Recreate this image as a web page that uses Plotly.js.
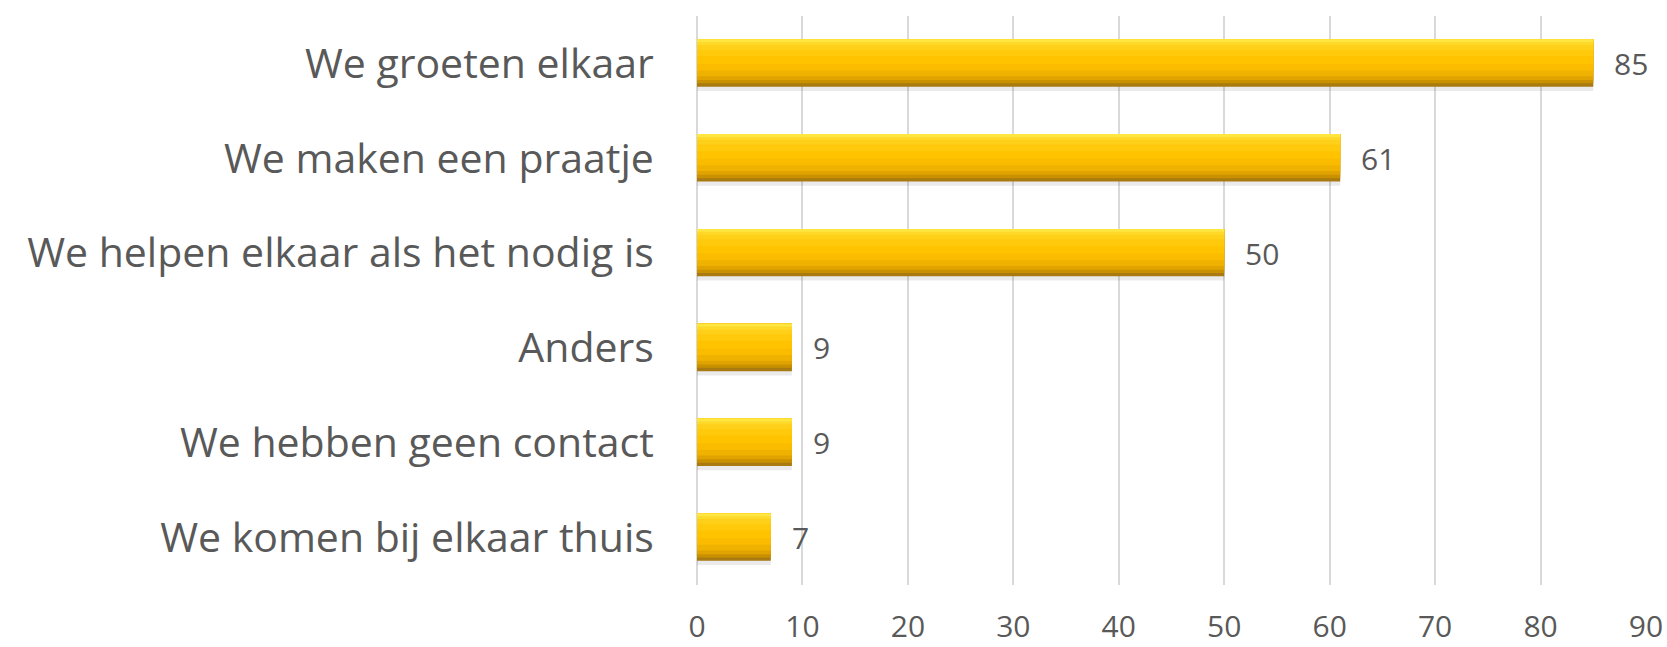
<!DOCTYPE html>
<html>
<head>
<meta charset="utf-8">
<script src="https://cdn.plot.ly/plotly-3.0.1.min.js"></script>
<style>
  html, body { margin: 0; padding: 0; background: #ffffff; }
  #chart { width: 1667px; height: 647px; }
</style>
</head>
<body>
<div id="chart"></div>
<script>
// ---- data ----
const categories = [
  "We groeten elkaar",
  "We maken een praatje",
  "We helpen elkaar als het nodig is",
  "Anders",
  "We hebben geen contact",
  "We komen bij elkaar thuis"
];
const values = [85, 61, 50, 9, 9, 7];
const tickValues = [0, 10, 20, 30, 40, 50, 60, 70, 80, 90];
const tickLabels = ["0", "10", "20", "30", "40", "50", "60", "70", "80", "90"];

// ---- bevel-like layered bar styling ----
const barTop = -0.255;
const layers = [
  // [offset from top, width, color]
  [0.025, 0.52, "rgba(0,0,0,0.08)"],     // soft shadow
  [0.0, 0.50, "#A87A10"],                 // dark bottom edge
  [0.0, 0.465, "#C99000"],
  [0.0, 0.43, "#E0A300"],
  [0.0, 0.39, "#F0B200"],
  [0.0, 0.33, "#FBBC00"],
  [0.0, 0.26, "#FFC300"],
  [0.0, 0.18, "#FFC90C"],
  [0.0, 0.11, "#FFD01A"],
  [0.0, 0.06, "#FFD92A"],
  [0.0, 0.03, "#FFE640"]
];

const traces = layers.map(([dOff, w, col]) => ({
  type: "bar",
  orientation: "h",
  y: categories,
  x: values,
  offset: barTop + dOff,
  width: w,
  marker: { color: col, line: { width: 0 } },
  hoverinfo: "skip",
  showlegend: false
}));

const annotations = categories.map((c, i) => ({
  x: values[i],
  y: c,
  xref: "x",
  yref: "y",
  text: String(values[i]),
  showarrow: false,
  xanchor: "left",
  yanchor: "middle",
  xshift: 19,
  font: { family: "Open Sans, sans-serif", size: 30, color: "#595959" }
}));

const layout = {
  width: 1667,
  height: 647,
  margin: { l: 697, r: 21, t: 16, b: 62 },
  paper_bgcolor: "#ffffff",
  plot_bgcolor: "#ffffff",
  barmode: "overlay",
  showlegend: false,
  font: { family: "Open Sans, sans-serif", color: "#595959" },
  xaxis: {
    range: [0, 90],
    tickvals: tickValues,
    ticktext: tickLabels,
    showgrid: true,
    gridcolor: "#D9D9D9",
    gridwidth: 2,
    zeroline: true,
    zerolinecolor: "#D9D9D9",
    zerolinewidth: 2,
    showline: false,
    ticks: "outside",
    ticklen: 15,
    tickcolor: "rgba(0,0,0,0)",
    tickfont: { family: "Open Sans, sans-serif", size: 30, color: "#595959" },
    fixedrange: true
  },
  yaxis: {
    type: "category",
    categoryorder: "array",
    categoryarray: categories,
    autorange: "reversed",
    showgrid: false,
    zeroline: false,
    showline: false,
    ticks: "outside",
    ticklen: 34,
    tickcolor: "rgba(0,0,0,0)",
    tickfont: { family: "Open Sans, sans-serif", size: 41, color: "#595959" },
    fixedrange: true
  },
  annotations: annotations
};

Plotly.newPlot("chart", traces, layout, { displayModeBar: false, staticPlot: true });
</script>
</body>
</html>
